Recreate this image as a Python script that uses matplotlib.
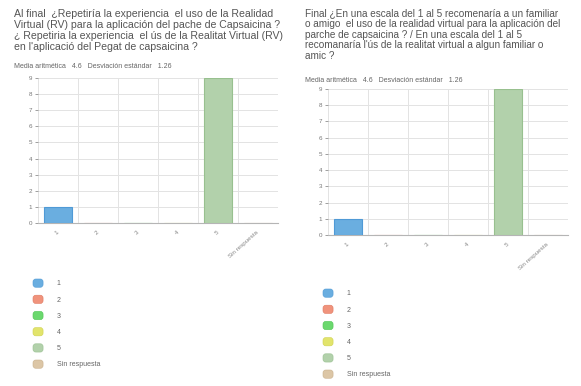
import matplotlib
matplotlib.use("Agg")
import matplotlib.pyplot as plt
from matplotlib.patches import Patch, FancyBboxPatch
from matplotlib.legend_handler import HandlerPatch

plt.rcParams['font.family'] = ['Liberation Sans', 'DejaVu Sans']

categories = ["1", "2", "3", "4", "5", "Sin respuesta"]
counts_left = [1, 0, 0, 0, 9, 0]
counts_right = [1, 0, 0, 0, 9, 0]
colors = ["#6aaee0", "#f0937c", "#6bd86e", "#e2e46c", "#b2d1ab", "#dcc6a6"]
edge_colors = ["#4f9ad6", "#e07a62", "#4fc454", "#cfd24e", "#98c08f", "#c9b08c"]

title_left = ("Al final  ¿Repetiría la experiencia  el uso de la Realidad\n"
              "Virtual (RV) para la aplicación del pache de Capsaicina ?\n"
              "¿ Repetiria la experiencia  el ús de la Realitat Virtual (RV)\n"
              "en l'aplicació del Pegat de capsaicina ?")
title_right = ("Final ¿En una escala del 1 al 5 recomenaría a un familiar\n"
               "o amigo  el uso de la realidad virtual para la aplicación del\n"
               "parche de capsaicina ? / En una escala del 1 al 5\n"
               "recomanaría l'ús de la realitat virtual a algun familiar o\n"
               "amic ?")
stats_text = "Media aritmética   4.6   Desviación estándar   1.26"

W, H = 581, 386
fig = plt.figure(figsize=(W / 100, H / 100), dpi=100)


class RoundHandler(HandlerPatch):
    def create_artists(self, legend, orig_handle, xdescent, ydescent, width, height, fontsize, trans):
        p = FancyBboxPatch((-xdescent, -ydescent), width, height,
                           boxstyle="round,pad=0,rounding_size=2",
                           facecolor=orig_handle.get_facecolor(),
                           edgecolor=orig_handle.get_edgecolor(), linewidth=0.4)
        p.set_transform(trans)
        return [p]


def px_axes(x0, y0, x1, y1):
    return fig.add_axes([x0 / W, 1 - y1 / H, (x1 - x0) / W, (y1 - y0) / H])


def draw_panel(ax, counts):
    x = range(len(categories))
    ax.bar(x, counts, width=0.72, color=colors, edgecolor=edge_colors, linewidth=0.8, zorder=3)
    ax.set_xlim(-0.5, len(categories) - 0.5)
    ax.set_ylim(0, 9)
    ax.set_yticks(range(0, 10))
    ax.tick_params(axis='y', labelsize=4.5, colors='#777777', length=2, width=0.5, pad=2)
    ax.set_xticks(x)
    ax.set_xticklabels(categories, rotation=42, ha='right', va='center',
                       rotation_mode='anchor', fontsize=4.5, color='#888888')
    ax.tick_params(axis='x', length=0, pad=6)
    ax.set_xticks([i - 0.5 for i in range(len(categories) + 1)], minor=True)
    ax.tick_params(axis='x', which='minor', length=0)
    ax.grid(True, which='minor', axis='x', color='#e3e3e3', linewidth=0.7, zorder=0)
    ax.grid(True, which='major', axis='y', color='#e3e3e3', linewidth=0.7, zorder=0)
    for s in ['top', 'right', 'left']:
        ax.spines[s].set_visible(False)
    ax.spines['bottom'].set_color('#b5b5b5')
    ax.spines['bottom'].set_linewidth(0.8)


ax1 = px_axes(38, 78, 278, 223)
draw_panel(ax1, counts_left)
ax2 = px_axes(328, 89, 568, 235)
draw_panel(ax2, counts_right)

fig.text(14 / W, 1 - 9 / H, title_left, fontsize=7.6, color='#555555', va='top', ha='left', linespacing=1.12)
fig.text(305 / W, 1 - 8 / H, title_right, fontsize=7.2, color='#555555', va='top', ha='left', linespacing=1.1)
fig.text(14 / W, 1 - 67 / H, stats_text, fontsize=5, color='#666666', va='center', ha='left')
fig.text(305 / W, 1 - 80 / H, stats_text, fontsize=5, color='#666666', va='center', ha='left')

handles = [Patch(facecolor=c, edgecolor=e) for c, e in zip(colors, edge_colors)]
for x0, y0 in [(33, 279), (323, 289)]:
    fig.legend(handles, categories, loc='upper left', bbox_to_anchor=(x0 / W, 1 - y0 / H),
               frameon=False, fontsize=5, labelcolor='#666666', handlelength=1.45,
               handleheight=1.45, labelspacing=1.12, handletextpad=2.0, borderpad=0,
               borderaxespad=0, handler_map={Patch: RoundHandler()})

fig.savefig("out.png", dpi=100)
